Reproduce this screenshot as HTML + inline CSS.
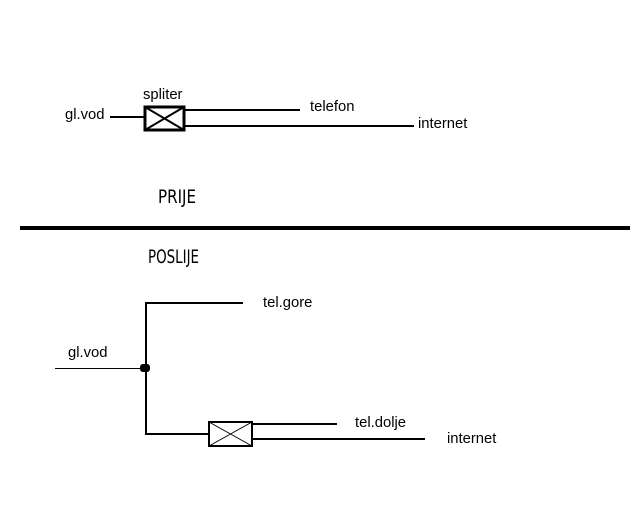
<!DOCTYPE html>
<html><head><style>
html,body{margin:0;padding:0;background:#fff;}
svg{display:block;}
text{font-family:"Liberation Sans",sans-serif;font-size:14.8px;fill:#000;}
.c{font-family:"DejaVu Sans Condensed","Liberation Sans Narrow",sans-serif;font-size:19px;font-weight:normal;}
</style></head><body>
<svg width="640" height="512" viewBox="0 0 640 512">
<g stroke="#000" fill="none">
<line x1="110" y1="117" x2="144" y2="117" stroke-width="2"/>
<rect x="145" y="107" width="39" height="23" stroke-width="3"/>
<line x1="145" y1="107" x2="184" y2="130" stroke-width="2"/>
<line x1="145" y1="130" x2="184" y2="107" stroke-width="2"/>
<line x1="184" y1="110" x2="300" y2="110" stroke-width="2"/>
<line x1="184" y1="126" x2="414" y2="126" stroke-width="2"/>
<line x1="20" y1="228" x2="630" y2="228" stroke-width="4"/>
<polyline points="243,303 146,303 146,434 208,434" stroke-width="2"/>
<line x1="55" y1="368.5" x2="146" y2="368.5" stroke-width="1"/>
<rect x="209" y="422" width="43" height="24" stroke-width="2"/>
<line x1="209" y1="422" x2="252" y2="446" stroke-width="1"/>
<line x1="209" y1="446" x2="252" y2="422" stroke-width="1"/>
<line x1="252" y1="424" x2="337" y2="424" stroke-width="2"/>
<line x1="252" y1="439" x2="425" y2="439" stroke-width="2"/>
</g>
<rect x="140" y="364" width="10" height="8" rx="3" fill="#000"/>
<text x="65" y="119">gl.vod</text>
<text x="143" y="99">spliter</text>
<text x="310" y="111">telefon</text>
<text x="418" y="128">internet</text>
<text class="c" x="158" y="203" textLength="38" lengthAdjust="spacingAndGlyphs">PRIJE</text>
<text class="c" x="148" y="263" textLength="51" lengthAdjust="spacingAndGlyphs">POSLIJE</text>
<text x="263" y="307">tel.gore</text>
<text x="68" y="357">gl.vod</text>
<text x="355" y="427">tel.dolje</text>
<text x="447" y="443">internet</text>
</svg>
</body></html>
